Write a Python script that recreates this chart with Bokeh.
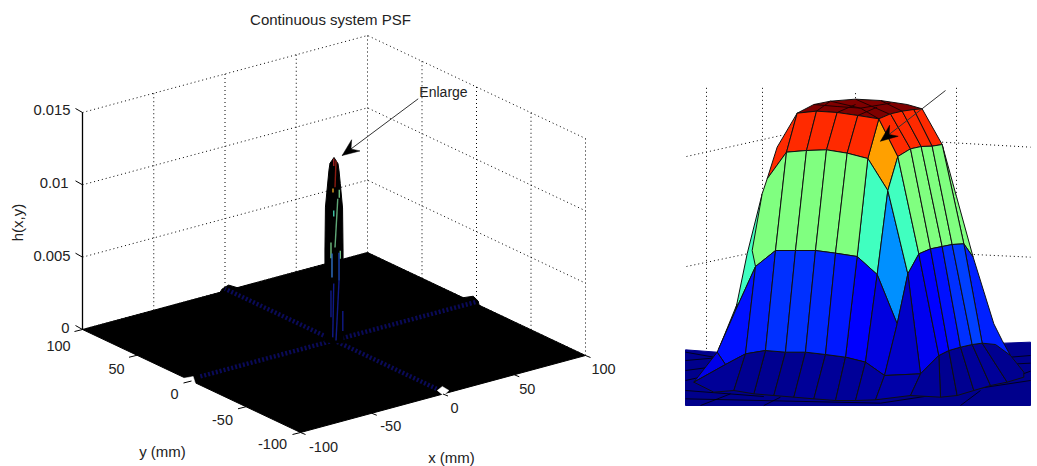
import math
from bokeh.plotting import figure
from bokeh.models import Range1d
from bokeh.core.properties import value
from bokeh.embed import file_html
from bokeh.resources import INLINE

# ---------- left panel data ----------
title = "Continuous system PSF"
x_grid = [-100, -50, 0, 50, 100]
y_grid = [-100, -50, 0, 50, 100]
z_grid = [0, 0.005, 0.01, 0.015]
x_labels = ["-100", "-50", "0", "50", "100"]
y_labels = ["-100", "-50", "0", "50", "100"]
z_labels = ["0", "0.005", "0.01", "0.015"]

# central peak: height and half-width (mm, on the screen-horizontal diagonal)
peak_z = [0.0, 0.0052, 0.00636, 0.00933, 0.0110, 0.0119, 0.01237, 0.01279]
peak_hw = [3.6, 3.6, 3.6, 3.4, 2.5, 2.0, 1.6, 0.0]
# coloured mesh strands visible on the peak: d1, z1, d2, z2, colour
strand_d1 = [0.8, -0.1, -0.4, 2.1, 1.5, -0.1, -1.2, 2.5, -0.8, 2.0, -0.1, -1.2, 3.5, 2.0]
strand_z1 = [.01258, .0127, .01064, .01058, .00995, .00912, .00691, .00636, .00615, .00622, .00408, .00359, .00221, .00429]
strand_d2 = [0.4, -0.1, -0.4, 2.1, 0.4, -0.1, -1.2, 2.5, -0.8, 2.0, -0.5, -1.2, 3.5, 0.8]
strand_z2 = [.01073, .0122, .01037, .01002, .00657, .00871, .00581, .00581, .00449, .00429, .00035, .00173, .00083, .00014]
strand_col = ["#8b1a10", "#a02020", "#e8a020", "#70c080", "#60a878", "#40c8a8", "#70c080",
              "#70c080", "#3070c8", "#1840b0", "#101a88", "#101a88", "#101a88", "#101a88"]

# side lobes along the axes
ridge_x = [[0, 0], [0, 0], [3, 100], [-3, -95]]
ridge_y = [[3, 100], [-3, -94], [0, 0], [0, 0]]
ridge_z = 0.00015
bump_back_x = [-4.5, -2, 2.5, 7, 11]
bump_back_z = [0, .00033, .00048, .00023, 0]
bump_right_y = [12, 3, -1.5, -2.7]
bump_right_z = [.00008, .0005, .00033, 0]
notch_left_x = [-101, -95, -101]
notch_left_y = [6, 5, -5]
notch_right_x = [0.8, 6.8, 6, -1.2]
notch_right_y = [-93.7, -90.5, -97.6, -102]

# ---------- enlarged surface data (image units: 3 per pixel from inset origin) ----------
cap = [(350,98),(400,72),(450,62),(525,56),(600,60),(680,72),(725,85),(670,93),(630,100),(595,115),(532,105),(470,96),(408,92)]
cap_lines = [[(408,92),(450,62)],[(470,96),(525,72)],[(532,105),(590,80)],[(400,72),(470,78),(540,83),(595,115)],[(450,62),(540,83)],[(525,56),(625,100)],[(600,60),(665,92)],[(540,83),(630,68)]]
L1 = [(350,98),(408,92),(470,96),(532,105),(595,115)]
L2 = [(318,215),(378,210),(438,208),(500,218),(562,234)]
L3 = [(285,510),(345,510),(405,510),(465,518),(530,528)]
L4 = [(255,810),(315,815),(375,815),(435,822),(495,830)]
L5 = [(220,940),(280,945),(340,950),(400,955),(465,960)]
R1 = [(595,115),(630,100),(665,92),(700,87),(725,85)]
R2 = [(652,228),(690,205),(722,198),(755,197),(785,192)]
R3 = [(715,520),(750,505),(785,498),(815,492),(850,490)]
R4 = [(775,825),(805,810),(840,800),(875,792),(905,788)]
R5 = [(780,950),(830,945),(880,930),(930,915),(980,905)]

single_cells = [
    ([(350,98),(318,215),(260,295),(290,200)], "#ff2a00"),
    ([(595,115),(562,234),(622,330),(652,228)], "#ffa000"),
    ([(245,340),(200,520),(165,690),(225,558)], "#40ffc0"),
    ([(170,670),(115,805),(165,690)], "#0090ff"),
    ([(260,295),(318,215),(285,510),(225,558),(215,510),(245,340)], "#80ff80"),
    ([(225,558),(165,690),(110,815),(135,852),(195,820)], "#0010ff"),
    ([(110,815),(40,905),(135,852)], "#0000e8"),
    ([(225,558),(285,510),(255,810),(195,820)], "#0020ff"),
    ([(562,234),(622,330),(590,582),(530,528)], "#40ffc0"),
    ([(622,330),(590,582),(650,730),(682,580)], "#0090ff"),
    ([(530,528),(590,582),(555,845),(495,830)], "#0000ff"),
    ([(590,582),(650,730),(612,885),(555,845)], "#0000e0"),
    ([(652,228),(715,520),(682,580),(622,330)], "#40ffc0"),
    ([(682,580),(715,520),(775,825),(720,880)], "#0000f0"),
    ([(650,730),(682,580),(720,880),(612,885)], "#0000c8"),
    ([(785,192),(850,490),(878,530)], "#80ff80"),
    ([(850,490),(878,530),(940,730),(965,780),(990,825),(905,788)], "#0020ff"),
    ([(40,905),(135,852),(195,820),(160,930),(100,935)], "#000098"),
    ([(195,820),(255,810),(220,940),(160,930)], "#000090"),
    ([(495,830),(555,845),(525,960),(465,960)], "#000098"),
    ([(555,845),(612,885),(585,958),(525,960)], "#0000a0"),
    ([(612,885),(720,880),(690,945),(585,958)], "#0000a8"),
    ([(720,880),(775,825),(780,950),(690,945)], "#000098"),
    ([(905,788),(945,792),(990,825),(1030,875),(1030,890),(980,905)], "#000090"),
]
band_left_blue = ["#0030ff", "#0030ff", "#0028ff", "#0018ff"]
band_right_blue = ["#0000ff", "#0010ff", "#0030ff", "#0040ff"]
band_dark = ["#000090", "#000090", "#000098", "#000098"]
floor = [(15,808),(110,815),(970,788),(1050,785),(1050,975),(15,975)]
floor_lines = [[(15,840),(130,830)],[(15,870),(90,860)],[(15,900),(60,890)],[(15,930),(250,948)],[(15,955),(600,968)],
               [(600,968),(1050,900)],[(990,830),(1050,825)],[(1010,850),(1050,848)],[(960,905),(1050,872)],
               [(60,975),(150,940)],[(250,975),(300,950)],[(840,975),(900,930)],[(15,815),(100,830)]]
red_col = "#ff2a00"; green_col = "#80ff80"; cap_col = "#7f0000"

inset_v_x = [706, 762, 956, 855]
inset_v_top = [22, 22, 22, 38]
inset_v_bot = [815, 500, 500, 60]
inset_h_lines = [[(18,228),(315,162)], [(785,185),(1050,200)], [(18,558),(200,520)], [(880,522),(1050,530)]]

# annotations: tail, tip
arrow_left = ((417.7, 98.3), (341.7, 155.0))
arrow_right = ((945.0, 90.0), (880.0, 140.7))

FONT = value("Liberation Sans")
INK = "#222222"

# ---------- projection of the 3-D axes ----------
def proj(x, y, z=0.0):
    a, b = (x + 100) / 200, (y + 100) / 200
    return 300 + 285 * a - 218 * b, 432 - 77 * a - 103 * b - z / 0.015 * 217

def inset(points):
    return [680 + u / 3 for u, _ in points], [80 + v / 3 for _, v in points]

p = figure(width=1037, height=466, x_range=Range1d(0, 1037), y_range=Range1d(466, 0),
           toolbar_location=None, output_backend="svg", min_border=0,
           outline_line_color=None, background_fill_color="white", border_fill_color="white")
p.axis.visible = False
p.grid.visible = False

def dotted(xs, ys, **kw):
    p.multi_line(xs, ys, line_color="black", line_width=1, line_dash="1 3", **kw)

# --- walls
wx, wy = [], []
zt = z_grid[-1]
for z in z_grid:
    pts = [proj(-100, 100, z), proj(100, 100, z), proj(100, -100, z)]
    wx.append([q[0] for q in pts]); wy.append([q[1] for q in pts])
for x in x_grid:
    a, b = proj(x, 100, 0), proj(x, 100, zt)
    wx.append([a[0], b[0]]); wy.append([a[1], b[1]])
for y in y_grid[:-1]:
    a, b = proj(100, y, 0), proj(100, y, zt)
    wx.append([a[0], b[0]]); wy.append([a[1], b[1]])
dotted(wx, wy)

# --- floor
corners = [proj(-100, -100), proj(100, -100), proj(100, 100), proj(-100, 100)]
p.patch([c[0] for c in corners], [c[1] for c in corners], fill_color="black", line_color="black", line_width=1)

# --- bumps, notches
bb = [proj(x, 100, z) for x, z in zip(bump_back_x, bump_back_z)]
p.patch([q[0] for q in bb], [q[1] + 2 for q in bb], fill_color="black", line_color="black")
br = [proj(100, y, z) for y, z in zip(bump_right_y, bump_right_z)]
p.patch([q[0] for q in br], [q[1] + 1 for q in br], fill_color="black", line_color="black")
for xs, ys in ((notch_left_x, notch_left_y), (notch_right_x, notch_right_y)):
    nn = [proj(x, y) for x, y in zip(xs, ys)]
    p.patch([q[0] for q in nn], [q[1] for q in nn], fill_color="white", line_color="white", line_width=0.5)

# --- ridges
rx, ry = [], []
for xs, ys in zip(ridge_x, ridge_y):
    pts = [proj(x, y, ridge_z) for x, y in zip(xs, ys)]
    rx.append([q[0] for q in pts]); ry.append([q[1] for q in pts])
p.multi_line(rx, ry, line_color="#0a0a58", line_width=4.5, line_dash="2 2")

# --- peak
left = [proj(-h, h, z) for h, z in zip(peak_hw, peak_z)]
right = [proj(h, -h, z) for h, z in zip(peak_hw, peak_z)]
outline = left + right[::-1]
p.patch([q[0] for q in outline], [q[1] for q in outline], fill_color="black", line_color="black", line_width=1)
sx, sy = [], []
for d1, z1, d2, z2 in zip(strand_d1, strand_z1, strand_d2, strand_z2):
    a, b = proj(d1, -d1, z1), proj(d2, -d2, z2)
    sx.append([a[0], b[0]]); sy.append([a[1], b[1]])
p.multi_line(sx, sy, line_color=strand_col, line_width=1.4)

# --- axes ticks
p.line([proj(-100, 100, 0)[0]] * 2, [proj(-100, 100, 0)[1], proj(-100, 100, zt)[1]], line_color="black", line_width=1.3)
tx, ty = [], []
for z in z_grid:
    a = proj(-100, 100, z)
    tx.append([a[0], a[0] - 7]); ty.append([a[1], a[1] - 4])
for y in y_grid:
    a = proj(-100, y)
    tx.append([a[0], a[0] - 8]); ty.append([a[1], a[1] + 2])
for x in x_grid:
    a = proj(x, -100)
    tx.append([a[0], a[0] + 5]); ty.append([a[1], a[1] + 2])
p.multi_line(tx, ty, line_color="black", line_width=1)

def label(xs, ys, texts, size="15px", align="center", angle=0.0, color=INK):
    p.text(x=xs, y=ys, text=texts, text_font=FONT, text_font_size=size, text_color=color,
           text_align=align, text_baseline="middle", angle=angle)

xdx, xdy = [23, 19, 11.5, 13, 18], [14, 13, 13.5, 14, 13]
zx_anchor = [69, 70, 68, 70]
zy = [327, 255, 182, 109]

xp = [proj(x, -100) for x in x_grid]
label([q[0] + d for q, d in zip(xp, xdx)], [q[1] + d for q, d in zip(xp, xdy)], x_labels, size="14.5px")
label([272, 222, 174, 116, 58], [443, 419, 393, 368, 345], y_labels, size="14.5px")
label(zx_anchor, zy, z_labels, align="right", size="14.8px")
label([330], [19], [title])
label([162], [451], ["y (mm)"])
label([451], [457], ["x (mm)"])
label([17], [222], ["h(x,y)"], angle=math.pi / 2)
label([443], [91], ["Enlarge"], size="14px")

# --- enlarged surface: background grid
vx = [[u, u] for u in inset_v_x]
vy = [[80 + t / 3, 80 + b / 3] for t, b in zip(inset_v_top, inset_v_bot)]
hx, hy = [], []
for line in inset_h_lines:
    a, b = inset(line); hx.append(a); hy.append(b)
dotted(vx + hx, vy + hy)

# --- enlarged surface: floor and cells
a, b = inset(floor)
p.patch(a, b, fill_color="#00008c", line_color="#00008c")
fx, fy = [], []
for line in floor_lines:
    a, b = inset(line); fx.append(a); fy.append(b)
p.multi_line(fx, fy, line_color="black", line_width=0.8)

cells_x, cells_y, cells_c = [], [], []
def add_cell(points, colour):
    a, b = inset(points)
    cells_x.append(a); cells_y.append(b); cells_c.append(colour)
def add_band(top, bottom, colours):
    for i in range(len(top) - 1):
        add_cell([top[i], top[i + 1], bottom[i + 1], bottom[i]], colours[i])

add_cell(cap, cap_col)
add_band(L4, L5, band_dark)
add_band(R4, R5, band_dark)
for pts, col in single_cells:
    add_cell(pts, col)
add_band(L1, L2, [red_col] * 4)
add_band(R1, R2, [red_col] * 4)
add_band(L2, L3, [green_col] * 4)
add_band(R2, R3, [green_col] * 4)
add_band(L3, L4, band_left_blue)
add_band(R3, R4, band_right_blue)
p.patches(cells_x, cells_y, fill_color=cells_c, line_color="#101010", line_width=1)
cx, cy = [], []
for line in cap_lines:
    a, b = inset(line); cx.append(a); cy.append(b)
p.multi_line(cx, cy, line_color="#200000", line_width=1)

# --- arrows
for (tail, tip) in (arrow_left, arrow_right):
    p.line([tail[0], tip[0]], [tail[1], tip[1]], line_color="#333333", line_width=1)
    L = math.hypot(tail[0] - tip[0], tail[1] - tip[1])
    ux, uy = (tail[0] - tip[0]) / L, (tail[1] - tip[1]) / L
    hl, hw, nl = 17, 7, 11
    h1 = (tip[0] + ux * hl - uy * hw, tip[1] + uy * hl + ux * hw)
    h2 = (tip[0] + ux * nl, tip[1] + uy * nl)
    h3 = (tip[0] + ux * hl + uy * hw, tip[1] + uy * hl - ux * hw)
    p.patch([tip[0], h1[0], h2[0], h3[0]], [tip[1], h1[1], h2[1], h3[1]], fill_color="black", line_color="black", line_width=0.5)

open("out.html", "w").write(file_html(p, INLINE))
